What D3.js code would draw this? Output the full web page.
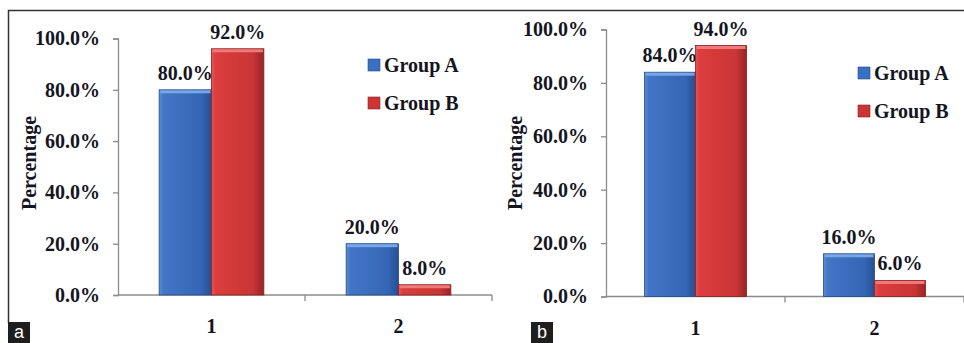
<!DOCTYPE html>
<html>
<head>
<meta charset="utf-8">
<script src="https://cdn.jsdelivr.net/npm/d3@7"></script>
<style>
  body { margin: 0; background: #fff; }
  svg { display: block; }
  text { font-family: "Liberation Serif", "Times New Roman", serif; font-weight: bold; fill: #15151f; }
</style>
</head>
<body>
<svg id="chart" width="964" height="343"></svg>
<script>
// categories and series
const categories = ["1", "2"];
const groups = ["Group A", "Group B"];
const yTicks = [0, 20, 40, 60, 80, 100];

// panel a: bar heights as drawn, labels as printed
const panelAGroupA = [80, 20];
const panelAGroupB = [96, 4];
const panelALabelsA = [80, 20];
const panelALabelsB = [92, 8];

// panel b
const panelBGroupA = [84, 16];
const panelBGroupB = [94, 6];
const panelBLabelsA = [84, 16];
const panelBLabelsB = [94, 6];

const svg = d3.select("#chart");
const fmt = d => d3.format(".1f")(d) + "%";

// gradients for the bevelled bars
const defs = svg.append("defs");
function grad(id, stops) {
  const g = defs.append("linearGradient").attr("id", id)
    .attr("x1", "0%").attr("x2", "100%").attr("y1", "0%").attr("y2", "0%");
  stops.forEach(s => g.append("stop").attr("offset", s[0]).attr("stop-color", s[1]));
}
grad("gA", [["0%", "#5b8bd5"], ["8%", "#4276c6"], ["80%", "#3566b5"], ["100%", "#254f93"]]);
grad("gB", [["0%", "#ea5555"], ["8%", "#dc3d3d"], ["80%", "#c93535"], ["100%", "#962424"]]);
const fills = ["url(#gA)", "url(#gB)"];
const tops = ["#78a6e6", "#f07a7a"];
const strokes = ["#244c8a", "#8a2020"];
const legendFills = ["#3a70c2", "#cc3434"];

function drawPanel(cfg) {
  const y = d3.scaleLinear().domain([0, 100]).range([cfg.y0, cfg.y100]);
  const x0 = d3.scaleBand().domain(categories).range([cfg.xl, cfg.xr])
    .paddingInner(cfg.pad).paddingOuter(cfg.pad / 2);
  const x1 = d3.scaleBand().domain(groups).range([0, x0.bandwidth()]);
  const g = svg.append("g");

  // y axis
  const yAxis = g.append("g").attr("transform", `translate(${cfg.xl},0)`)
    .call(d3.axisLeft(y).tickValues(yTicks).tickSize(5).tickPadding(13).tickFormat(fmt));
  yAxis.select(".domain").attr("stroke", "#8c8c8c").attr("stroke-width", 1.3);
  yAxis.selectAll(".tick line").attr("stroke", "#8c8c8c").attr("stroke-width", 1.3);
  yAxis.selectAll(".tick text").style("font-size", "20px").style("font-family", "Liberation Serif")
    .attr("fill", "#15151f");

  // x axis with boundary ticks
  const step = x0.step();
  const bounds = [cfg.xl, cfg.xl + step, cfg.xl + 2 * step];
  g.append("line").attr("x1", cfg.xl).attr("x2", cfg.xr).attr("y1", cfg.y0).attr("y2", cfg.y0)
    .attr("stroke", "#8c8c8c").attr("stroke-width", 1.3);
  g.selectAll(".xt").data(bounds.slice(1)).enter().append("line")
    .attr("x1", d => d).attr("x2", d => d).attr("y1", cfg.y0).attr("y2", cfg.y0 + 6)
    .attr("stroke", "#8c8c8c").attr("stroke-width", 1.3);
  g.selectAll(".xl").data(categories).enter().append("text")
    .attr("x", d => x0(d) + x0.bandwidth() / 2).attr("y", cfg.y0 + 38)
    .attr("text-anchor", "middle").style("font-size", "20px").text(d => d);

  // y label
  g.append("text")
    .attr("transform", `translate(${cfg.ylabX},${cfg.ylabY}) rotate(-90)`)
    .attr("text-anchor", "middle").style("font-size", "20px").text("Percentage");

  // bars
  const series = [cfg.a, cfg.b];
  const labels = [cfg.la, cfg.lb];
  series.forEach((vals, si) => {
    const bw = x1.bandwidth();
    const bars = g.selectAll(".bar" + si).data(categories).enter();
    bars.append("rect")
      .attr("x", (d, i) => x0(d) + x1(groups[si]))
      .attr("y", (d, i) => y(vals[i]))
      .attr("width", bw)
      .attr("height", (d, i) => cfg.y0 - y(vals[i]))
      .attr("fill", fills[si]).attr("stroke", strokes[si]).attr("stroke-width", 0.8);
    bars.append("rect")
      .attr("x", (d, i) => x0(d) + x1(groups[si]) + 1)
      .attr("y", (d, i) => y(vals[i]) + 0.5)
      .attr("width", bw - 2)
      .attr("height", (d, i) => Math.min(3, cfg.y0 - y(vals[i]) - 1))
      .attr("fill", tops[si]);
    bars.append("text")
      .attr("x", (d, i) => x0(d) + x1(groups[si]) + bw / 2)
      .attr("y", (d, i) => y(vals[i]) - 10)
      .attr("text-anchor", "middle").style("font-size", "20px")
      .text((d, i) => fmt(labels[si][i]));
  });

  // legend
  groups.forEach((name, i) => {
    const ly = cfg.legY + i * 38;
    g.append("rect").attr("x", cfg.legX).attr("y", ly - 13).attr("width", 12).attr("height", 12)
      .attr("fill", legendFills[i]).attr("stroke", strokes[i]).attr("stroke-width", 0.6);
    g.append("text").attr("x", cfg.legX + 16).attr("y", ly).style("font-size", "20px").text(name);
  });

  // panel tag
  g.append("rect").attr("x", cfg.tagX).attr("y", 322).attr("width", 22).attr("height", 21).attr("fill", "#1e1e1e");
  g.append("text").attr("x", cfg.tagX + 11).attr("y", 338).attr("text-anchor", "middle")
    .style("font-family", "Liberation Sans").style("font-weight", "normal").style("font-size", "18px")
    .style("fill", "#fff").text(cfg.tag);
}

// frame
svg.append("line").attr("x1", 8).attr("x2", 964).attr("y1", 10.5).attr("y2", 10.5).attr("stroke", "#333").attr("stroke-width", 1.5);
svg.append("line").attr("x1", 8.5).attr("x2", 8.5).attr("y1", 10).attr("y2", 323).attr("stroke", "#333").attr("stroke-width", 1.5);

drawPanel({ xl: 118, xr: 492, y0: 295, y100: 38.5, pad: 0.44,
  a: panelAGroupA, b: panelAGroupB, la: panelALabelsA, lb: panelALabelsB,
  ylabX: 36, ylabY: 163, legX: 368, legY: 72, tagX: 8, tag: "a" });
drawPanel({ xl: 606, xr: 964, y0: 296.5, y100: 29.5, pad: 0.43,
  a: panelBGroupA, b: panelBGroupB, la: panelBLabelsA, lb: panelBLabelsB,
  ylabX: 522, ylabY: 163, legX: 858, legY: 80, tagX: 531, tag: "b" });
</script>
</body>
</html>
